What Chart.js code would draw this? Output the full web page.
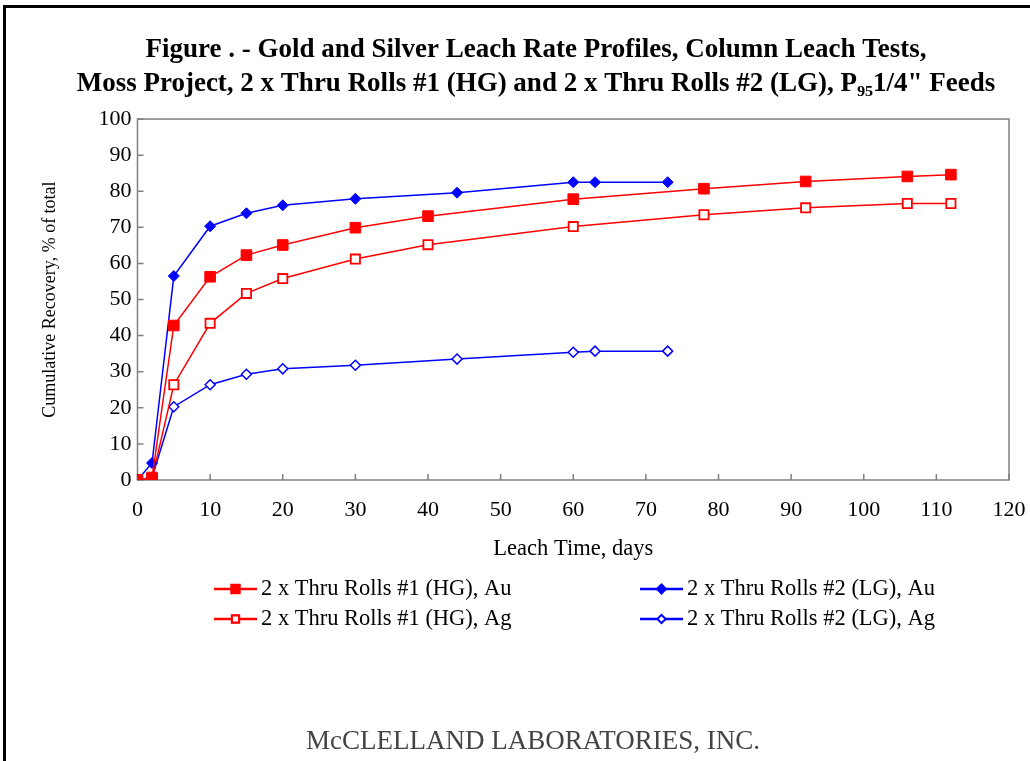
<!DOCTYPE html>
<html>
<head>
<meta charset="utf-8">
<script src="https://cdn.jsdelivr.net/npm/chart.js"></script>
<style>
  body { margin: 0; background: #fff; }
  #wrap { position: relative; width: 1030px; height: 761px; }
</style>
</head>
<body>
<div id="wrap"><canvas id="leachChart"></canvas></div>
<script>
// Datos
const hgDays = [0, 2, 5, 10, 15, 20, 30, 40, 60, 78, 92, 106, 112];
const lgDays = [0, 2, 5, 10, 15, 20, 30, 44, 60, 63, 73];
const hgAu = [0, 0.7, 42.8, 56.3, 62.3, 65.1, 69.9, 73.1, 77.8, 80.7, 82.7, 84.1, 84.6];
const hgAg = [0, 0.3, 26.4, 43.4, 51.7, 55.8, 61.2, 65.2, 70.2, 73.5, 75.4, 76.6, 76.6];
const lgAu = [0, 4.7, 56.5, 70.3, 73.9, 76.1, 77.9, 79.6, 82.5, 82.5, 82.5];
const lgAg = [0, 0.7, 20.3, 26.4, 29.3, 30.8, 31.8, 33.5, 35.4, 35.7, 35.7];
const xTicks = [0, 10, 20, 30, 40, 50, 60, 70, 80, 90, 100, 110, 120];
const yTicks = [0, 10, 20, 30, 40, 50, 60, 70, 80, 90, 100];

const serif = "'Liberation Serif', 'Times New Roman', serif";
const RED = 'rgb(255, 0, 0)';
const BLUE = 'rgb(0, 0, 255)';

function toPoints(days, vals) {
    return days.map((d, i) => ({ x: d, y: vals[i] }));
}

// Marco, caja del grafico y marcas hacia adentro
const framePlugin = {
    id: 'framePlugin',
    beforeDraw(chart) {
        const ctx = chart.ctx;
        ctx.save();
        ctx.fillStyle = '#fff';
        ctx.fillRect(0, 0, chart.width, chart.height);
        ctx.strokeStyle = '#000';
        ctx.lineWidth = 3;
        ctx.beginPath();
        ctx.moveTo(4.5, chart.height);
        ctx.lineTo(4.5, 6.5);
        ctx.lineTo(chart.width, 6.5);
        ctx.stroke();
        ctx.restore();
    },
    beforeDatasetsDraw(chart) {
        const ctx = chart.ctx;
        const a = chart.chartArea;
        const xs = chart.scales.x, ys = chart.scales.y;
        ctx.save();
        ctx.strokeStyle = '#808080';
        ctx.lineWidth = 1.5;
        ctx.strokeRect(a.left, a.top, a.right - a.left, a.bottom - a.top);
        ctx.beginPath();
        xTicks.forEach(v => {
            const px = xs.getPixelForValue(v);
            ctx.moveTo(px, a.bottom);
            ctx.lineTo(px, a.bottom - 6);
        });
        yTicks.forEach(v => {
            const py = ys.getPixelForValue(v);
            ctx.moveTo(a.left, py);
            ctx.lineTo(a.left + 6, py);
        });
        ctx.stroke();
        ctx.restore();
    },
    afterDraw(chart) {
        const ctx = chart.ctx;
        const cols = [214, 640];
        const rows = [589, 619];
        ctx.save();
        chart.data.datasets.forEach((ds, i) => {
            const x0 = cols[i % 2];
            const y0 = rows[Math.floor(i / 2)];
            ctx.strokeStyle = ds.borderColor;
            ctx.lineWidth = 2.5;
            ctx.beginPath();
            ctx.moveTo(x0, y0);
            ctx.lineTo(x0 + 43, y0);
            ctx.stroke();
            Chart.helpers.drawPoint(ctx, {
                pointStyle: ds.pointStyle,
                radius: ds.pointRadius * 0.75,
                borderWidth: ds.pointBorderWidth,
                rotation: 0
            }, x0 + 21.5, y0);
            ctx.fillStyle = ds.pointBackgroundColor;
            ctx.strokeStyle = ds.pointBorderColor;
            ctx.lineWidth = ds.pointBorderWidth;
            ctx.fill();
            ctx.stroke();
            ctx.fillStyle = '#000';
            ctx.font = '22.5px ' + serif;
            ctx.textBaseline = 'middle';
            ctx.textAlign = 'left';
            ctx.fillText(ds.label, x0 + 47, y0);
        });
        ctx.fillStyle = '#444';
        ctx.font = '27px ' + serif;
        ctx.textAlign = 'center';
        ctx.fillText('McCLELLAND LABORATORIES, INC.', 533, 742);
        ctx.restore();
    }
};

document.addEventListener('DOMContentLoaded', function() {
    const ctx = document.getElementById('leachChart').getContext('2d');
    const leachChart = new Chart(ctx, {
        type: 'line',
        data: {
            datasets: [{
                label: '2 x Thru Rolls #1 (HG), Au',
                data: toPoints(hgDays, hgAu),
                borderColor: RED,
                pointBackgroundColor: RED,
                pointBorderColor: RED,
                pointStyle: 'rect',
                pointRadius: 7.5,
                pointBorderWidth: 1,
                borderWidth: 1.5
            }, {
                label: '2 x Thru Rolls #2 (LG), Au',
                data: toPoints(lgDays, lgAu),
                borderColor: BLUE,
                pointBackgroundColor: BLUE,
                pointBorderColor: BLUE,
                pointStyle: 'rectRot',
                pointRadius: 5.5,
                pointBorderWidth: 1,
                borderWidth: 1.5
            }, {
                label: '2 x Thru Rolls #1 (HG), Ag',
                data: toPoints(hgDays, hgAg),
                borderColor: RED,
                pointBackgroundColor: '#fff',
                pointBorderColor: RED,
                pointStyle: 'rect',
                pointRadius: 6.5,
                pointBorderWidth: 1.8,
                borderWidth: 1.5
            }, {
                label: '2 x Thru Rolls #2 (LG), Ag',
                data: toPoints(lgDays, lgAg),
                borderColor: BLUE,
                pointBackgroundColor: '#fff',
                pointBorderColor: BLUE,
                pointStyle: 'rectRot',
                pointRadius: 5,
                pointBorderWidth: 1.5,
                borderWidth: 1.5
            }]
        },
        options: {
            responsive: true,
            maintainAspectRatio: false,
            animation: false,
            layout: {
                padding: { left: 63, right: 21, top: 0, bottom: 198.5 }
            },
            plugins: {
                legend: { display: false },
                tooltip: { enabled: false },
                title: {
                    display: true,
                    text: ['Figure . - Gold and Silver Leach Rate Profiles, Column Leach Tests,',
                           'Moss Project, 2 x Thru Rolls #1 (HG) and 2 x Thru Rolls #2 (LG), P\u2089\u20851/4" Feeds'],
                    color: '#000',
                    font: { family: serif, size: 27, weight: 'bold', lineHeight: 1.26 },
                    padding: { top: 33, bottom: 18 }
                }
            },
            scales: {
                x: {
                    type: 'linear',
                    min: 0,
                    max: 120,
                    afterBuildTicks: s => { s.ticks = xTicks.map(v => ({ value: v })); },
                    afterFit: s => { s.height = 82.5; s.paddingLeft = 0; s.paddingRight = 0; },
                    grid: { display: false, drawTicks: false },
                    border: { display: false },
                    ticks: { color: '#000', padding: 17, maxRotation: 0,
                             font: { family: serif, size: 22 } },
                    title: {
                        display: true,
                        text: 'Leach Time, days',
                        color: '#000',
                        font: { family: serif, size: 22.5 },
                        padding: { top: 0, bottom: 0 }
                    }
                },
                y: {
                    min: 0,
                    max: 100,
                    afterBuildTicks: s => { s.ticks = yTicks.map(v => ({ value: v })); },
                    afterFit: s => { s.width = 74.5; },
                    grid: { display: false, drawTicks: false },
                    border: { display: false },
                    ticks: { color: '#000', padding: 6,
                             font: { family: serif, size: 22 } },
                    title: {
                        display: true,
                        text: 'Cumulative Recovery, % of total',
                        color: '#000',
                        font: { family: serif, size: 18 },
                        padding: { top: -24, bottom: 0 }
                    }
                }
            }
        },
        plugins: [framePlugin]
    });
});
</script>
</body>
</html>
